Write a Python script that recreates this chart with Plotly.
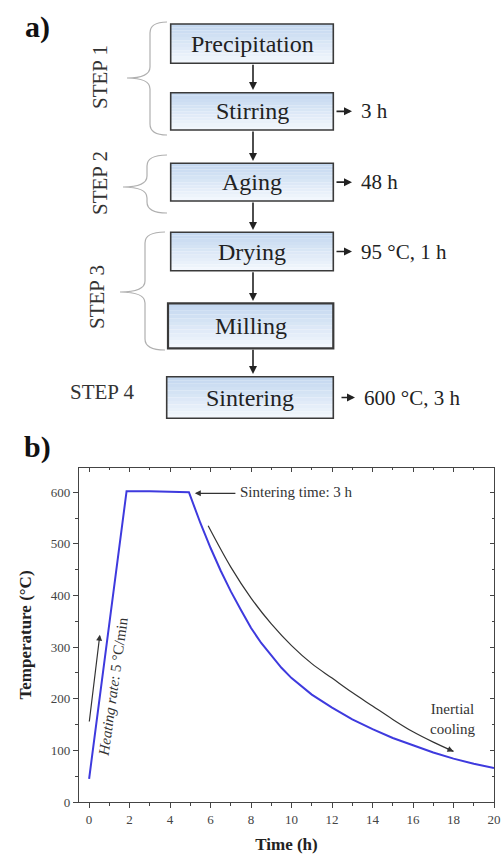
import plotly.graph_objects as go

# ---------------- data ----------------
time_h = [0, 1.85, 3.0, 4.93, 5.5, 6.0, 6.5, 7.0, 7.5, 8.0, 8.5, 9.0, 9.5, 10.0, 11.0, 12.0,
          13.0, 14.0, 15.0, 16.0, 17.0, 18.0, 19.0, 20.0]
temp_c = [45, 602, 602, 600, 540, 492, 448, 408, 372, 337, 308, 283, 260, 240, 208, 183,
          160, 141, 124, 110, 96, 84, 74, 66]

cool_guide_t = [5.88, 7.0, 8.0, 9.0, 10.0, 11.0, 12.0, 13.0, 14.0, 15.0, 16.0, 17.0, 18.0]
cool_guide_v = [535, 455, 395, 345, 303, 268, 240, 212, 186, 160, 136, 116, 98]

heat_arrow_tail = (0.0, 153)
heat_arrow_tip = (0.53, 324)

x_ticks = list(range(0, 21, 2))
y_ticks = list(range(0, 601, 100))

box_labels = ["Precipitation", "Stirring", "Aging", "Drying", "Milling", "Sintering"]
side_labels = {"Stirring": "3 h", "Aging": "48 h", "Drying": "95 °C, 1 h",
               "Sintering": "600 °C, 3 h"}
step_labels = ["STEP 1", "STEP 2", "STEP 3", "STEP 4"]

# ---------------- layout geometry ----------------
W, H = 502, 858
ML, MR, MT, MB = 79, 8, 468, 56
PW, PH = W - ML - MR, H - MT - MB

def px(x):
    return (x - ML) / PW

def py(y):
    return (H - MB - y) / PH

SERIF = "Liberation Serif, Times New Roman, serif"

fig = go.Figure()

fig.add_trace(go.Scatter(x=time_h, y=temp_c, mode="lines",
                         line=dict(color="rgb(62,58,222)", width=2),
                         hoverinfo="skip", showlegend=False))
fig.add_trace(go.Scatter(x=cool_guide_t, y=cool_guide_v, mode="lines",
                         line=dict(color="#333333", width=1.2, shape="spline"),
                         hoverinfo="skip", showlegend=False))
# invisible trace for mirror axes
fig.add_trace(go.Scatter(x=[-0.5], y=[0], xaxis="x2", yaxis="y2", mode="markers",
                         marker=dict(opacity=0), hoverinfo="skip", showlegend=False))

shapes = []
annotations = []

def ptext(x, y, text, size, color="#222", angle=0, xanchor="center"):
    annotations.append(dict(xref="paper", yref="paper", x=px(x), y=py(y), text=text,
                            textangle=angle, showarrow=False, xanchor=xanchor,
                            yanchor="middle",
                            font=dict(family=SERIF, size=size, color=color)))

# ---------------- flowchart (panel a) ----------------
boxes = {
    "Precipitation": (170.7, 333.3, 24.0, 63.3),
    "Stirring": (170.7, 333.3, 92.7, 130.0),
    "Aging": (170.7, 333.3, 163.3, 201.0),
    "Drying": (170.7, 333.3, 232.3, 270.7),
    "Milling": (168.0, 333.3, 303.3, 348.3),
    "Sintering": (166.7, 333.3, 376.7, 418.3),
}
top_c = (196, 216, 240)
bot_c = (242, 247, 253)
NS = 12
for lab in box_labels:
    x0, x1, y0, y1 = boxes[lab]
    for i in range(NS):
        f = i / (NS - 1)
        c = tuple(int(top_c[k] + (bot_c[k] - top_c[k]) * f) for k in range(3))
        ya = y0 + (y1 - y0) * i / NS
        yb = y0 + (y1 - y0) * (i + 1) / NS
        shapes.append(dict(type="rect", xref="paper", yref="paper",
                           x0=px(x0), x1=px(x1), y0=py(ya), y1=py(yb),
                           fillcolor="rgb(%d,%d,%d)" % c, line=dict(width=0), layer="above"))
    shapes.append(dict(type="rect", xref="paper", yref="paper",
                       x0=px(x0), x1=px(x1), y0=py(y0), y1=py(y1),
                       fillcolor="rgba(0,0,0,0)",
                       line=dict(color="#3a3a3a", width=2.2 if lab == "Milling" else 1.6),
                       layer="above"))
    ptext((x0 + x1) / 2, (y0 + y1) / 2, lab, 24)

# down arrows between boxes
down = [(63.3, 90), (130, 161), (201, 230), (270.7, 301), (348.3, 374)]
for ya, yb in down:
    annotations.append(dict(xref="paper", yref="paper", x=px(253), y=py(yb),
                            ax=0, ay=-(yb - ya), showarrow=True, arrowhead=2,
                            arrowsize=1, arrowwidth=1.6, arrowcolor="#222", text=""))

# side arrows + labels
for lab, txt in side_labels.items():
    x0, x1, y0, y1 = boxes[lab]
    yc = (y0 + y1) / 2
    tail = 335 if lab != "Sintering" else 340
    tip = 352 if lab != "Sintering" else 355
    annotations.append(dict(xref="paper", yref="paper", x=px(tip), y=py(yc),
                            ax=-(tip - tail), ay=0, showarrow=True, arrowhead=2,
                            arrowsize=1, arrowwidth=1.6, arrowcolor="#222", text=""))
    ptext(tip + 7, yc, txt, 21, xanchor="left")

# braces
def brace(xr, xs, xt, yt, yb, ym, r=11):
    pts = [
        ("M", [(xr, yt)]),
        ("Q", [(xs, yt), (xs, yt + r)]),
        ("L", [(xs, ym - r)]),
        ("Q", [(xs, ym), (xt, ym)]),
        ("Q", [(xs, ym), (xs, ym + r)]),
        ("L", [(xs, yb - r)]),
        ("Q", [(xs, yb), (xr, yb)]),
    ]
    s = ""
    for cmd, pp in pts:
        s += cmd + " " + " ".join("%.5f,%.5f" % (px(a), py(b)) for a, b in pp) + " "
    return dict(type="path", xref="paper", yref="paper", path=s.strip(),
                line=dict(color="#b0b0b0", width=1.2), layer="above")

shapes.append(brace(167, 150, 127, 22, 135, 78))
shapes.append(brace(167, 147, 123, 155, 213, 187))
shapes.append(brace(165, 145, 120, 232, 350, 292))

step_pos = [(100, 77, -90), (100, 183, -90), (97, 297, -90), (102, 392, 0)]
for lab, (x, y, ang) in zip(step_labels, step_pos):
    ptext(x, y, lab, 21, color="#333", angle=ang)

# panel letters
ptext(37, 27, "<b>a)</b>", 30, color="#111")
ptext(37, 447, "<b>b)</b>", 30, color="#111")

# ---------------- chart annotations (panel b) ----------------
annotations.append(dict(xref="x", yref="y", x=heat_arrow_tip[0], y=heat_arrow_tip[1],
                        ax=heat_arrow_tail[0], ay=heat_arrow_tail[1], axref="x", ayref="y",
                        showarrow=True, arrowhead=2, arrowsize=1, arrowwidth=1.2,
                        arrowcolor="#333", text=""))
annotations.append(dict(xref="x", yref="y", x=5.22, y=598, ax=7.3, ay=598,
                        axref="x", ayref="y", showarrow=True, arrowhead=2, arrowsize=1,
                        arrowwidth=1.2, arrowcolor="#333", text=""))
annotations.append(dict(xref="x", yref="y", x=7.35, y=601, xanchor="left", yanchor="middle",
                        text="Sintering time: 3 h", showarrow=False,
                        font=dict(family=SERIF, size=15, color="#333")))
annotations.append(dict(xref="x", yref="y", x=cool_guide_t[-1], y=cool_guide_v[-1],
                        ax=cool_guide_t[-2] + 0.6, ay=cool_guide_v[-2] - 11,
                        axref="x", ayref="y", showarrow=True, arrowhead=2, arrowsize=1,
                        arrowwidth=1.2, arrowcolor="#333", text=""))
annotations.append(dict(xref="x", yref="y", x=1.18, y=223, textangle=-82,
                        xanchor="center", yanchor="middle",
                        text="<i>Heating rate</i>: 5 °C/min", showarrow=False,
                        font=dict(family=SERIF, size=15, color="#333")))
annotations.append(dict(xref="x", yref="y", x=17.96, y=160, xanchor="center",
                        yanchor="middle", text="Inertial<br>cooling", showarrow=False,
                        font=dict(family=SERIF, size=15, color="#333")))

axis_common = dict(showgrid=False, zeroline=False, linecolor="#444", linewidth=1.3)

fig.update_layout(
    width=W, height=H,
    margin=dict(l=ML, r=MR, t=MT, b=MB, autoexpand=False),
    paper_bgcolor="white", plot_bgcolor="white",
    showlegend=False,
    shapes=shapes, annotations=annotations,
    xaxis=dict(range=[-0.5, 20], tickvals=x_ticks, ticks="outside", ticklen=5,
               tickwidth=1.2, tickcolor="#444", showline=True,
               minor=dict(dtick=1, ticks="outside", ticklen=3, tickcolor="#444"),
               tickfont=dict(family=SERIF, size=13, color="#444"),
               title=dict(text="<b>Time (h)</b>", standoff=12,
                          font=dict(family=SERIF, size=17, color="#222")),
               **axis_common),
    yaxis=dict(range=[0, 647], tickvals=y_ticks, ticks="outside", ticklen=5,
               tickwidth=1.2, tickcolor="#444", showline=True,
               minor=dict(dtick=50, ticks="outside", ticklen=3, tickcolor="#444"),
               tickfont=dict(family=SERIF, size=13, color="#444"),
               title=dict(text="<b>Temperature (°C)</b>", standoff=14,
                          font=dict(family=SERIF, size=17, color="#222")),
               **axis_common),
    xaxis2=dict(range=[-0.5, 20], overlaying="x", side="top", anchor="y",
                tickvals=x_ticks, ticks="inside", ticklen=4, tickcolor="#444",
                showticklabels=False, showline=True,
                minor=dict(dtick=1, ticks="inside", ticklen=2, tickcolor="#444"),
                **axis_common),
    yaxis2=dict(range=[0, 647], overlaying="y", side="right", anchor="x",
                tickvals=y_ticks, ticks="inside", ticklen=4, tickcolor="#444",
                showticklabels=False, showline=True,
                minor=dict(dtick=50, ticks="inside", ticklen=2, tickcolor="#444"),
                **axis_common),
)

fig.write_html("out.html")
